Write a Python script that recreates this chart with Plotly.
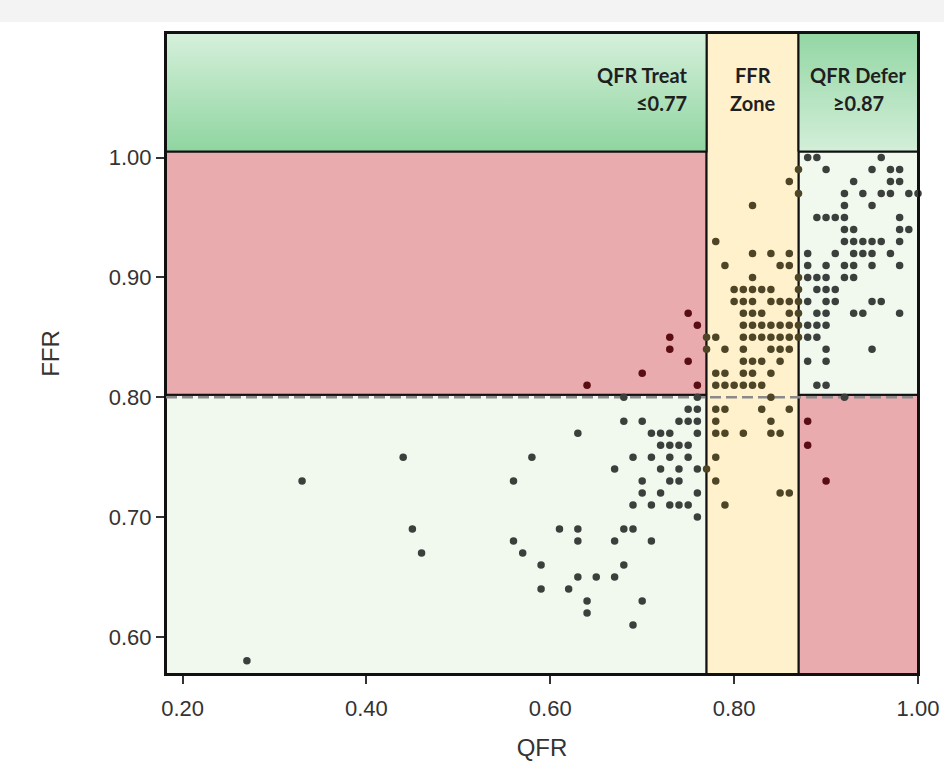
import plotly.graph_objects as go

# ---------------- data ----------------
# thresholds (QFR on x, FFR on y)
treat_cut = 0.77
defer_cut = 0.87
ffr_cut = 0.80
x_range = [0.182, 1.0]
y_range = [0.569, 1.104]
band_bottom = 1.005          # bottom of the top label band
x_ticks = [0.20, 0.40, 0.60, 0.80, 1.00]
y_ticks = [0.60, 0.70, 0.80, 0.90, 1.00]

zone_line1 = ["QFR Treat", "FFR", "QFR Defer"]
zone_line2 = ["≤0.77", "Zone", "≥0.87"]

# scatter points, grouped row by row (FFR value)
qfr = [
    0.88, 0.89, 0.96,                                            # 1.00
    0.87, 0.90, 0.95, 0.97, 0.98,                                # 0.99
    0.86, 0.93, 0.97, 0.98,                                      # 0.98
    0.87, 0.92, 0.94, 0.96, 0.97, 0.99, 1.00,                    # 0.97
    0.82, 0.92, 0.95,                                            # 0.96
    0.89, 0.90, 0.91, 0.92, 0.98,                                # 0.95
    0.92, 0.93, 0.98, 0.99,                                      # 0.94
    0.78, 0.92, 0.93, 0.94, 0.95, 0.96, 0.98,                    # 0.93
    0.82, 0.84, 0.86, 0.88, 0.91, 0.93, 0.94, 0.95, 0.97,        # 0.92
    0.79, 0.85, 0.86, 0.88, 0.90, 0.92, 0.93, 0.95, 0.98,        # 0.91
    0.82, 0.87, 0.88, 0.89, 0.90, 0.92, 0.93,                    # 0.90
    0.80, 0.81, 0.82, 0.83, 0.84, 0.87, 0.89, 0.90, 0.91,        # 0.89
    0.80, 0.81, 0.82, 0.84, 0.85, 0.86, 0.87, 0.88, 0.90, 0.91, 0.95, 0.96,  # 0.88
    0.75, 0.81, 0.82, 0.83, 0.86, 0.87, 0.89, 0.90, 0.93, 0.94, 0.98,        # 0.87
    0.76, 0.81, 0.82, 0.83, 0.84, 0.85, 0.86, 0.87, 0.88, 0.89, 0.90,        # 0.86
    0.73, 0.77, 0.78, 0.81, 0.82, 0.83, 0.84, 0.85, 0.86, 0.87, 0.88, 0.89,  # 0.85
    0.73, 0.77, 0.79, 0.81, 0.84, 0.85, 0.86, 0.90, 0.95,        # 0.84
    0.75, 0.81, 0.82, 0.83, 0.85, 0.88, 0.90,                    # 0.83
    0.70, 0.78, 0.79, 0.81, 0.82, 0.84,                          # 0.82
    0.64, 0.76, 0.78, 0.79, 0.80, 0.81, 0.82, 0.83, 0.89, 0.90,  # 0.81
    0.68, 0.76, 0.84, 0.92,                                      # 0.80
    0.75, 0.76, 0.78, 0.79, 0.83, 0.86,                          # 0.79
    0.68, 0.70, 0.74, 0.75, 0.76, 0.78, 0.84, 0.88,              # 0.78
    0.63, 0.71, 0.72, 0.73, 0.76, 0.78, 0.79, 0.81, 0.84, 0.85,  # 0.77
    0.72, 0.73, 0.74, 0.75, 0.88,                                # 0.76
    0.44, 0.58, 0.69, 0.71, 0.73, 0.75, 0.78,                    # 0.75
    0.67, 0.72, 0.74, 0.76, 0.77,                                # 0.74
    0.33, 0.56, 0.70, 0.73, 0.74, 0.78, 0.90,                    # 0.73
    0.70, 0.72, 0.76, 0.85, 0.86,                                # 0.72
    0.69, 0.71, 0.73, 0.74, 0.75, 0.79,                          # 0.71
    0.76,                                                        # 0.70
    0.45, 0.61, 0.63, 0.68, 0.69,                                # 0.69
    0.56, 0.63, 0.67, 0.71,                                      # 0.68
    0.46, 0.57,                                                  # 0.67
    0.59, 0.68,                                                  # 0.66
    0.63, 0.65, 0.67,                                            # 0.65
    0.59, 0.62,                                                  # 0.64
    0.64, 0.70,                                                  # 0.63
    0.64,                                                        # 0.62
    0.69,                                                        # 0.61
    0.27,                                                        # 0.58
]
ffr = (
    [1.00] * 3 + [0.99] * 5 + [0.98] * 4 + [0.97] * 7 + [0.96] * 3 + [0.95] * 5
    + [0.94] * 4 + [0.93] * 7 + [0.92] * 9 + [0.91] * 9 + [0.90] * 7 + [0.89] * 9
    + [0.88] * 12 + [0.87] * 11 + [0.86] * 11 + [0.85] * 12 + [0.84] * 9
    + [0.83] * 7 + [0.82] * 6 + [0.81] * 10 + [0.80] * 4 + [0.79] * 6
    + [0.78] * 8 + [0.77] * 10 + [0.76] * 5 + [0.75] * 7 + [0.74] * 5
    + [0.73] * 7 + [0.72] * 5 + [0.71] * 6 + [0.70] * 1 + [0.69] * 5
    + [0.68] * 4 + [0.67] * 2 + [0.66] * 2 + [0.65] * 3 + [0.64] * 2
    + [0.63] * 2 + [0.62] * 1 + [0.61] * 1 + [0.58] * 1
)
assert len(qfr) == len(ffr)

# ---------------- style ----------------
RED = "#e9abad"
LIGHT_GREEN = "#f1f8ee"
YELLOW = "#fef1cc"
GAP = 0.002   # small offset so the solid border sits just above the dashed 0.80 line
FONT = "Liberation Sans, Arial, sans-serif"
LABEL_FONT = "Lato, Open Sans, sans-serif"


def rect(x0, x1, y0, y1, color=None, gradient=None):
    kw = dict(
        x=[x0, x1, x1, x0, x0], y=[y0, y0, y1, y1, y0],
        mode="lines", fill="toself",
        line=dict(color="#111111", width=2),
        hoverinfo="skip", showlegend=False,
    )
    if gradient is not None:
        kw["fillgradient"] = dict(type="vertical", colorscale=gradient)
    else:
        kw["fillcolor"] = color
    return go.Scatter(**kw)


fig = go.Figure()
xl, xr = x_range
yb, yt = y_range
split = ffr_cut + GAP

# treat side (left)
fig.add_trace(rect(xl, treat_cut, yb, split, LIGHT_GREEN))
fig.add_trace(rect(xl, treat_cut, split, band_bottom, RED))
# defer side (right)
fig.add_trace(rect(defer_cut, xr, yb, split, RED))
fig.add_trace(rect(defer_cut, xr, split, band_bottom, LIGHT_GREEN))
# FFR grey zone
fig.add_trace(rect(treat_cut, defer_cut, yb, yt, YELLOW))
# top label bands
fig.add_trace(rect(xl, treat_cut, band_bottom, yt,
                   gradient=[[0, "#8fd5a0"], [1, "#d6f0db"]]))
fig.add_trace(rect(defer_cut, xr, band_bottom, yt,
                   gradient=[[0, "#d3efd9"], [1, "#93d6a4"]]))

# dashed FFR 0.80 line
fig.add_trace(go.Scatter(
    x=[xl, xr], y=[ffr_cut, ffr_cut], mode="lines",
    line=dict(color="#8a8a8a", width=2.5, dash="11px,5px"),
    hoverinfo="skip", showlegend=False,
))


def point_color(q, f):
    if treat_cut <= q <= defer_cut:
        return "#4d4526"
    if (q < treat_cut and f > ffr_cut) or (q > defer_cut and f < ffr_cut):
        return "#5a0d12"
    return "#3b403c"


fig.add_trace(go.Scatter(
    x=qfr, y=ffr, mode="markers",
    marker=dict(size=7.5, color=[point_color(q, f) for q, f in zip(qfr, ffr)]),
    cliponaxis=False, showlegend=False,
    hovertemplate="QFR %{x:.2f}<br>FFR %{y:.2f}<extra></extra>",
))

# zone labels (two lines each)
band_mid = (band_bottom + yt) / 2
label_x = [treat_cut, (treat_cut + defer_cut) / 2, (defer_cut + xr) / 2]
anchors = ["right", "center", "center"]
shifts = [-18, 0, 0]
for t1, t2, x, anc, sh in zip(zone_line1, zone_line2, label_x, anchors, shifts):
    for txt, ys in ((t1, 17), (t2, -11)):
        fig.add_annotation(
            x=x, y=band_mid, xref="x", yref="y", text=f"<b>{txt}</b>",
            showarrow=False, xanchor=anc, yanchor="middle",
            xshift=sh, yshift=ys,
            font=dict(family=LABEL_FONT, size=20, color="#1f1f1f"),
        )

# light grey strip at the very top of the picture
fig.add_shape(
    type="rect", xref="paper", yref="paper", xsizemode="pixel", ysizemode="pixel",
    xanchor=0, yanchor=1, x0=-200, x1=1000, y0=11, y1=60,
    fillcolor="#f3f3f3", line=dict(width=0), layer="below",
)

axis_common = dict(
    showline=True, mirror=True, linecolor="#111111", linewidth=2,
    ticks="outside", ticklen=8, tickwidth=1.5, tickcolor="#333333",
    showgrid=False, zeroline=False, tickformat=".2f",
    tickfont=dict(family=FONT, size=22, color="#333333"),
    title_font=dict(family=FONT, size=24, color="#333333"),
)
fig.update_xaxes(range=x_range, tickvals=x_ticks, title_text="QFR",
                 title_standoff=19, ticklabelstandoff=6, **axis_common)
fig.update_yaxes(range=y_range, tickvals=y_ticks, title_text="FFR",
                 title_standoff=42, **axis_common)

fig.update_layout(
    width=944, height=770,
    margin=dict(l=166, r=26, t=33, b=96, autoexpand=False),
    plot_bgcolor="white", paper_bgcolor="white",
    showlegend=False,
)

fig.write_html("out.html")
